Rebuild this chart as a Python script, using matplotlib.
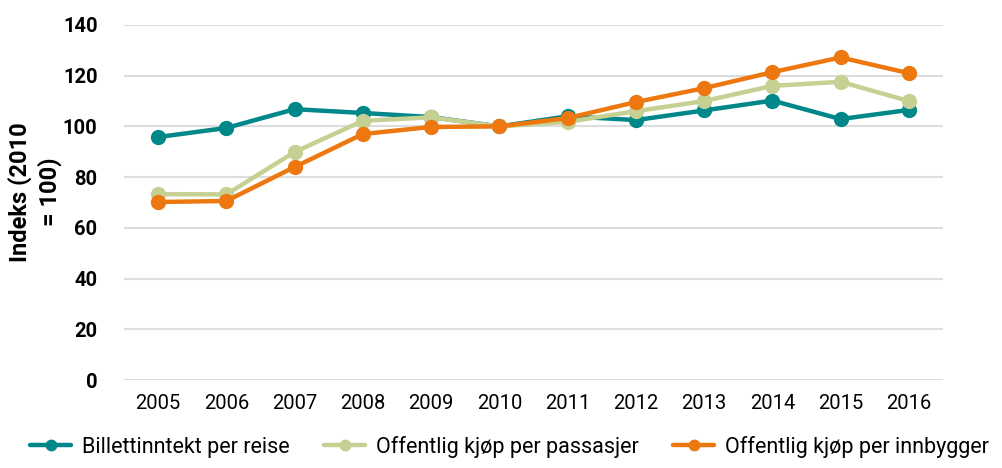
import matplotlib.pyplot as plt

plt.rcParams['font.family'] = ['Roboto', 'DejaVu Sans']

aar = ['2005', '2006', '2007', '2008', '2009', '2010', '2011', '2012', '2013', '2014', '2015', '2016']
billett_per_reise = [95.8, 99.4, 106.8, 105.3, 103.7, 100.0, 104.0, 102.5, 106.3, 110.2, 102.9, 106.5]
kjop_per_passasjer = [73.3, 73.2, 89.9, 102.2, 103.6, 100.0, 101.8, 106.0, 110.0, 116.0, 117.6, 110.0]
kjop_per_innbygger = [70.2, 70.6, 84.0, 97.0, 99.8, 100.0, 103.3, 109.6, 115.1, 121.4, 127.2, 121.0]

serier = [
    ('Billettinntekt per reise', billett_per_reise, '#00878a'),
    ('Offentlig kjøp per passasjer', kjop_per_passasjer, '#c5d092'),
    ('Offentlig kjøp per innbygger', kjop_per_innbygger, '#ee7810'),
]

fig = plt.figure(figsize=(10.03, 4.68), dpi=100)
ax = fig.add_axes([0.1236, 0.188, 0.8166, 0.7586])

x = list(range(len(aar)))
for navn, verdier, farge in serier:
    ax.plot(x, verdier, color=farge, lw=3.2, marker='o', ms=10, label=navn,
            solid_capstyle='round')

ax.set_ylim(0, 140)
ax.set_yticks(range(0, 141, 20))
ax.set_xlim(-0.5, len(aar) - 0.5)
ax.set_xticks(x)
ax.set_xticklabels(aar)
ax.grid(axis='y', color='#dddddd', lw=1.5)
ax.set_axisbelow(True)
for s in ax.spines.values():
    s.set_visible(False)
ax.tick_params(length=0)
ax.tick_params(axis='x', labelsize=14.5, pad=10)
ax.tick_params(axis='y', labelsize=14.5, pad=19)
for t in ax.get_yticklabels():
    t.set_fontweight('bold')

ax.set_ylabel('Indeks (2010\n= 100)', fontsize=17, fontweight='bold',
              linespacing=1.3, va='center', ha='center')
ax.yaxis.set_label_coords(-0.109, 0.53)

fig.legend(loc='lower center', bbox_to_anchor=(0.508, -0.02), ncol=3, frameon=False,
           fontsize=15.5, handlelength=1.9, columnspacing=1.6, handletextpad=0.5,
           markerscale=0.75)

fig.savefig('out.png', dpi=100)
